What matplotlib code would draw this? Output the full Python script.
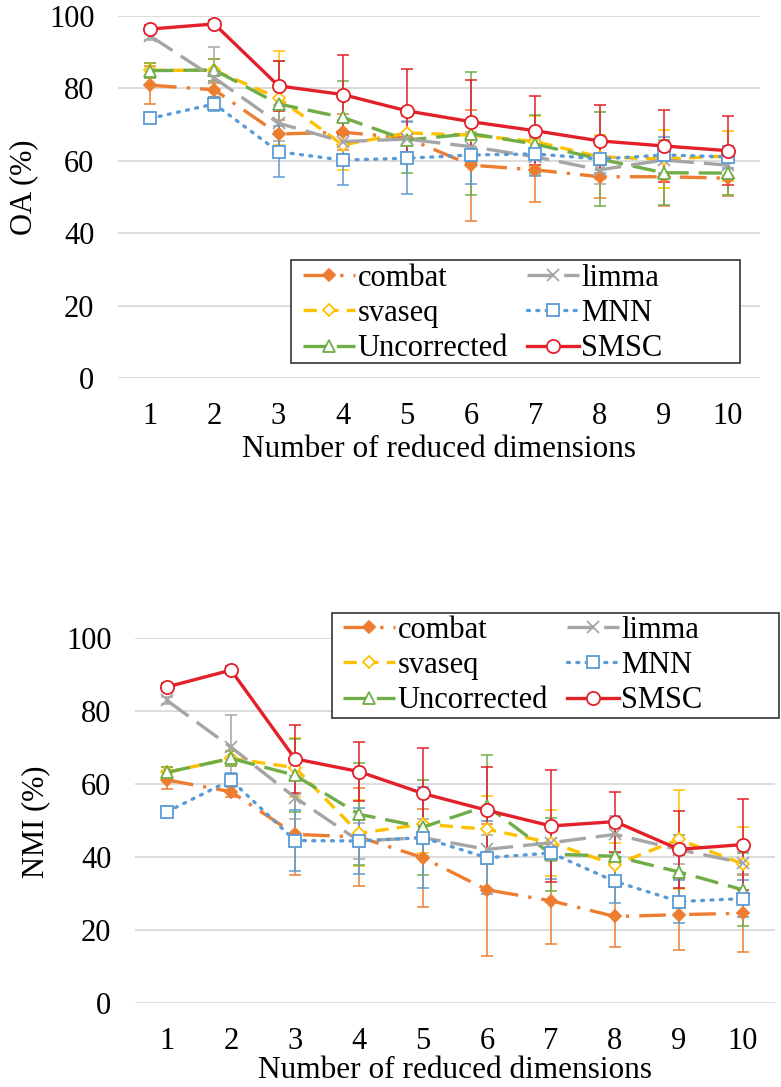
import matplotlib.pyplot as plt
from matplotlib.patches import Rectangle

plt.rcParams['font.family'] = 'serif'
plt.rcParams['font.serif'] = ['Liberation Serif', 'DejaVu Serif']

dims = [1, 2, 3, 4, 5, 6, 7, 8, 9, 10]
methods = ['combat', 'svaseq', 'Uncorrected', 'limma', 'MNN', 'SMSC']

# OA (%) mean and spread per method
oa_combat = [80.9, 79.6, 67.4, 67.9, 66.3, 58.8, 57.5, 55.6, 55.6, 55.2]
oa_svaseq = [85.0, 85.0, 77.3, 64.4, 67.7, 67.1, 65.3, 61.1, 60.5, 61.3]
oa_uncorr = [84.9, 85.1, 75.7, 72.0, 65.7, 67.5, 64.6, 60.5, 56.7, 56.6]
oa_limma = [94.5, 82.9, 70.4, 65.3, 66.0, 63.9, 61.1, 57.5, 60.2, 58.8]
oa_mnn = [71.7, 75.7, 62.5, 60.2, 60.7, 61.6, 61.9, 60.5, 61.6, 61.1]
oa_smsc = [96.4, 97.8, 80.7, 78.3, 73.8, 70.8, 68.3, 65.5, 64.1, 62.8]

oa_combat_err = [5.3, 2.0, 4.0, 5.0, 6.0, 15.3, 9.0, 6.0, 8.0, 5.0]
oa_svaseq_err = [2.0, 3.0, 13.0, 7.0, 6.0, 4.0, 7.0, 6.0, 8.0, 7.0]
oa_uncorr_err = [2.0, 3.0, 12.0, 10.0, 9.0, 17.0, 8.0, 13.0, 9.0, 6.0]
oa_limma_err = [1.0, 8.5, 5.0, 6.0, 5.0, 4.0, 5.0, 4.0, 4.0, 3.0]
oa_mnn_err = [1.0, 2.0, 7.0, 7.0, 10.0, 8.0, 6.0, 4.0, 5.0, 3.0]
oa_smsc_err = [1.0, 1.0, 7.0, 11.0, 11.5, 11.5, 9.5, 10.0, 10.0, 9.5]

# NMI (%) mean and spread per method
nmi_combat = [61.1, 57.9, 46.2, 45.5, 39.8, 31.0, 28.0, 23.7, 24.2, 24.6]
nmi_svaseq = [63.2, 67.0, 64.5, 46.5, 49.0, 47.6, 43.9, 37.9, 44.8, 38.1]
nmi_uncorr = [63.2, 67.0, 62.4, 51.7, 48.2, 54.0, 40.8, 40.2, 35.9, 31.0]
nmi_limma = [82.9, 70.1, 56.3, 44.4, 45.3, 42.1, 43.9, 46.2, 42.0, 38.4]
nmi_mnn = [52.4, 61.1, 44.5, 44.4, 45.3, 39.8, 41.1, 33.3, 27.8, 28.6]
nmi_smsc = [86.6, 91.2, 66.9, 63.4, 57.4, 52.8, 48.5, 49.7, 42.1, 43.4]

nmi_combat_err = [2.5, 1.5, 11.0, 13.5, 13.4, 18.0, 11.7, 8.3, 9.7, 10.6]
nmi_svaseq_err = [1.5, 2.0, 8.0, 9.0, 8.0, 9.0, 9.0, 6.0, 13.5, 10.0]
nmi_uncorr_err = [1.5, 2.0, 10.0, 14.0, 13.0, 14.0, 10.0, 8.0, 10.0, 10.0]
nmi_limma_err = [1.0, 8.7, 6.0, 5.0, 5.0, 4.0, 5.0, 5.0, 4.0, 3.0]
nmi_mnn_err = [1.0, 2.0, 8.4, 9.0, 13.8, 10.0, 7.0, 6.0, 6.0, 5.0]
nmi_smsc_err = [1.0, 1.0, 9.4, 8.0, 12.5, 11.8, 15.3, 8.2, 10.5, 12.4]

styles = {
    'combat': dict(color='#ED7D31', marker='D', mfc='#ED7D31', ms=6, dashes=(8, 3, 1, 3)),
    'svaseq': dict(color='#FFC000', marker='D', mfc='white', ms=6, dashes=(4, 2.5)),
    'Uncorrected': dict(color='#70AD47', marker='^', mfc='white', ms=9, dashes=(7, 3)),
    'limma': dict(color='#A5A5A5', marker='x', mfc='none', ms=8, dashes=(8, 3)),
    'MNN': dict(color='#5B9BD5', marker='s', mfc='white', ms=8, dashes=(0.6, 2.2)),
    'SMSC': dict(color='#E3202A', marker='o', mfc='white', ms=9.5, dashes=None),
}

FS = 22
W, H = 781, 1087
fig = plt.figure(figsize=(W / 100, H / 100), dpi=100)


def draw_panel(ax, series, errors, ylabel, label_x, label_y, xlabel_pad):
    for name, vals, err in zip(methods, series, errors):
        st = styles[name]
        ax.errorbar(dims, vals, yerr=err, fmt='none', ecolor=st['color'],
                    elinewidth=1.1, capsize=4, capthick=1.1, zorder=2)
        line, = ax.plot(dims, vals, color=st['color'], lw=2.4,
                        marker=st['marker'], ms=st['ms'], mfc=st['mfc'],
                        mec=st['color'], mew=1.3, label=name, zorder=3)
        if st['dashes'] is not None:
            line.set_dashes(st['dashes'])
            if name == 'MNN':
                line.set_dash_capstyle('round')
    ax.set_xlim(0.5, 10.5)
    ax.set_ylim(0, 100)
    ax.set_xticks(dims)
    ax.set_yticks([0, 20, 40, 60, 80, 100])
    ax.tick_params(length=0, labelsize=FS)
    ax.tick_params(axis='x', pad=17)
    ax.tick_params(axis='y', pad=17)
    ax.grid(axis='y', color='#D9D9D9', lw=1.3)
    ax.set_axisbelow(True)
    for s in ax.spines.values():
        s.set_visible(False)
    ax.set_xlabel('Number of reduced dimensions', fontsize=FS + 0.5,
                  labelpad=xlabel_pad)
    ax.set_ylabel(ylabel, fontsize=FS)
    ax.yaxis.set_label_coords(label_x, label_y)


def framed_legend(ax, box, anchor):
    # box: (left, top, right, bottom) in pixels from the top-left corner
    left, top, right, bottom = box
    fig.add_artist(Rectangle((left / W, 1 - bottom / H), (right - left) / W,
                             (bottom - top) / H, transform=fig.transFigure,
                             facecolor='white', edgecolor='#333333',
                             lw=1.2, zorder=4))
    handles, labels = ax.get_legend_handles_labels()
    fig.legend(handles, labels, loc='upper left',
               bbox_to_anchor=(anchor[0] / W, 1 - anchor[1] / H),
               bbox_transform=fig.transFigure, ncol=2, fontsize=FS,
               handlelength=1.7, handletextpad=0.08, columnspacing=0.62,
               labelspacing=0.2, borderpad=0, borderaxespad=0,
               frameon=False)


# OA panel
ax1 = fig.add_axes([118 / W, (H - 378) / H, 642 / W, 362 / H])
draw_panel(ax1,
           [oa_combat, oa_svaseq, oa_uncorr, oa_limma, oa_mnn, oa_smsc],
           [oa_combat_err, oa_svaseq_err, oa_uncorr_err, oa_limma_err, oa_mnn_err, oa_smsc_err],
           'OA (%)', -0.125, 0.528, 3)
framed_legend(ax1, (291, 260, 740, 363), (303, 264))

# NMI panel
ax2 = fig.add_axes([135 / W, (H - 1003) / H, 640 / W, 365 / H])
draw_panel(ax2,
           [nmi_combat, nmi_svaseq, nmi_uncorr, nmi_limma, nmi_mnn, nmi_smsc],
           [nmi_combat_err, nmi_svaseq_err, nmi_uncorr_err, nmi_limma_err, nmi_mnn_err, nmi_smsc_err],
           'NMI (%)', -0.133, 0.496, 0)
framed_legend(ax2, (332, 613, 779, 718), (343, 616))

fig.savefig('out.png', dpi=100)
